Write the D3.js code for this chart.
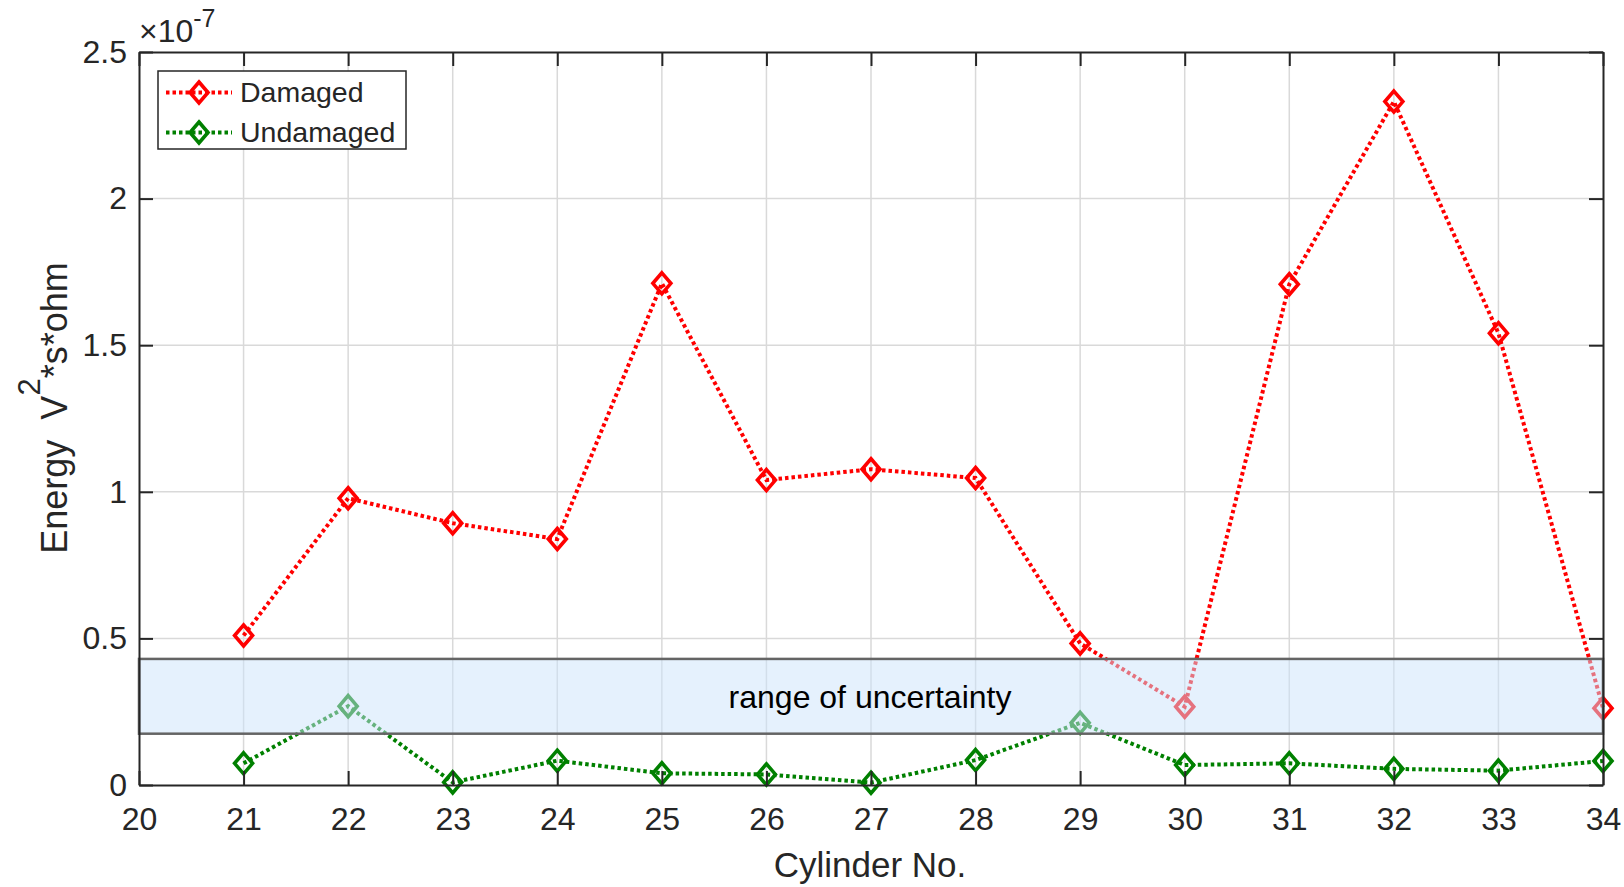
<!DOCTYPE html>
<html>
<head>
<meta charset="utf-8">
<script src="https://cdn.jsdelivr.net/npm/d3@7"></script>
<style>
  html, body { margin: 0; padding: 0; background: #fff; }
  svg { display: block; font-family: "Liberation Sans", Arial, Helvetica, sans-serif; }
</style>
</head>
<body>
<svg id="chart" width="1624" height="887"></svg>
<script>
// Cylinder numbers and measured signal energy (units of 1e-7 V^2*s*ohm)
const cylinders = [21, 22, 23, 24, 25, 26, 27, 28, 29, 30, 31, 32, 33, 34];
const damaged   = [0.51, 0.978, 0.893, 0.839, 1.711, 1.040, 1.077, 1.047, 0.483, 0.267, 1.708, 2.331, 1.541, 0.262];
const undamaged = [0.074, 0.269, 0.009, 0.083, 0.040, 0.036, 0.008, 0.085, 0.212, 0.068, 0.074, 0.055, 0.049, 0.082];
const xTicks = [20, 21, 22, 23, 24, 25, 26, 27, 28, 29, 30, 31, 32, 33, 34];
const yTicks = [0, 0.5, 1, 1.5, 2, 2.5];
const uncertaintyBand = [0.175, 0.43];
const seriesNames = ["Damaged", "Undamaged"];
const seriesColors = ["#ff0000", "#008000"];

const svg = d3.select("#chart");
const axisColor = "#262626";

const x = d3.scaleLinear().domain([20, 34]).range([139, 1603]);
const y = d3.scaleLinear().domain([0, 2.5]).range([785, 52]);

// grid
const grid = svg.append("g");
grid.selectAll("line.gx").data(xTicks.slice(1, -1)).join("line")
  .attr("x1", d => x(d)).attr("x2", d => x(d))
  .attr("y1", y(0)).attr("y2", y(2.5))
  .attr("stroke", "#d9d9d9").attr("stroke-width", 1.5);
grid.selectAll("line.gy").data(yTicks.slice(1, -1)).join("line")
  .attr("y1", d => y(d)).attr("y2", d => y(d))
  .attr("x1", x(20)).attr("x2", x(34))
  .attr("stroke", "#d9d9d9").attr("stroke-width", 1.5);

const diamond = "M0,-10.5L9,0L0,10.5L-9,0Z";
const line = d3.line().x((d, i) => x(cylinders[i])).y(d => y(d));

function drawSeries(values, color) {
  const g = svg.append("g");
  g.append("path").datum(values).attr("d", line)
    .attr("fill", "none").attr("stroke", color)
    .attr("stroke-width", 4).attr("stroke-dasharray", "3.5,3");
  g.selectAll("path.m").data(values).join("path")
    .attr("class", "m")
    .attr("d", diamond)
    .attr("transform", (d, i) => `translate(${x(cylinders[i])},${y(d)})`)
    .attr("fill", "none").attr("stroke", color).attr("stroke-width", 3.6);
}
drawSeries(damaged, seriesColors[0]);
drawSeries(undamaged, seriesColors[1]);

// shaded band of uncertainty
svg.append("rect")
  .attr("x", x(20)).attr("width", x(34) - x(20))
  .attr("y", y(uncertaintyBand[1])).attr("height", y(uncertaintyBand[0]) - y(uncertaintyBand[1]))
  .attr("fill", "rgb(204,227,251)").attr("fill-opacity", 0.5)
  .attr("stroke", "#646464").attr("stroke-width", 2.5);
svg.append("text")
  .attr("x", 870).attr("y", y((uncertaintyBand[0] + uncertaintyBand[1]) / 2) + 12)
  .attr("text-anchor", "middle").attr("font-size", 32).attr("fill", "#000")
  .text("range of uncertainty");

// axes box
const axesG = svg.append("g");
const axBottom = d3.axisBottom(x).tickValues(xTicks).tickSizeInner(-14).tickSizeOuter(0).tickPadding(22);
const axLeft = d3.axisLeft(y).tickValues(yTicks).tickFormat(d3.format("~g")).tickSizeInner(-14).tickSizeOuter(0).tickPadding(12);
const axTop = d3.axisTop(x).tickValues(xTicks).tickSizeInner(-14).tickSizeOuter(0).tickFormat("");
const axRight = d3.axisRight(y).tickValues(yTicks).tickSizeInner(-14).tickSizeOuter(0).tickFormat("");

[[axBottom, `translate(0,${y(0)})`], [axLeft, `translate(${x(20)},0)`],
 [axTop, `translate(0,${y(2.5)})`], [axRight, `translate(${x(34)},0)`]].forEach(([ax, tr]) => {
  const g = axesG.append("g").attr("transform", tr).call(ax);
  g.select(".domain").attr("stroke", axisColor).attr("stroke-width", 2);
  g.selectAll(".tick line").attr("stroke", axisColor).attr("stroke-width", 2);
  g.selectAll(".tick text").attr("fill", axisColor).attr("font-size", 32)
    .attr("font-family", "'Liberation Sans', Arial, sans-serif");
});

// exponent label
const expo = svg.append("text").attr("x", 139).attr("y", 42).attr("fill", axisColor)
  .attr("font-size", 32);
expo.append("tspan").text("\u00d710");
expo.append("tspan").attr("font-size", 25).attr("dy", -15).text("-7");

// axis titles
svg.append("text").attr("x", 870).attr("y", 877).attr("text-anchor", "middle")
  .attr("font-size", 35).attr("fill", axisColor).text("Cylinder No.");
const yl = svg.append("text").attr("transform", "translate(67,408) rotate(-90)")
  .attr("text-anchor", "middle").attr("font-size", 36).attr("fill", axisColor)
  .style("white-space", "pre");
yl.append("tspan").text("Energy  V");
yl.append("tspan").attr("font-size", 31).attr("dy", -27).text("2");
yl.append("tspan").attr("dy", 27).text("*s*ohm");

// legend
const lg = svg.append("g");
lg.append("rect").attr("x", 158).attr("y", 71).attr("width", 248).attr("height", 78)
  .attr("fill", "#fff").attr("stroke", axisColor).attr("stroke-width", 1.5);
seriesNames.forEach((name, i) => {
  const cy = 92.5 + i * 40;
  lg.append("line").attr("x1", 166).attr("x2", 232).attr("y1", cy).attr("y2", cy)
    .attr("stroke", seriesColors[i]).attr("stroke-width", 4).attr("stroke-dasharray", "3.5,3");
  lg.append("path").attr("d", diamond).attr("transform", `translate(199,${cy})`)
    .attr("fill", "none").attr("stroke", seriesColors[i]).attr("stroke-width", 3.6);
  lg.append("text").attr("x", 240).attr("y", cy + 9.5).attr("font-size", 28.5)
    .attr("fill", axisColor).text(name);
});
</script>
</body>
</html>
